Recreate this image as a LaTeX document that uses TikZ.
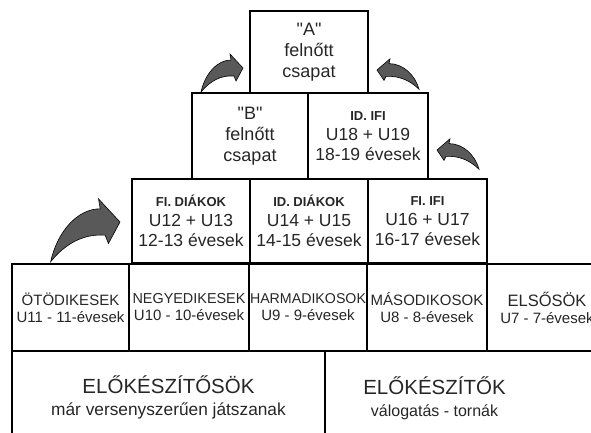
\documentclass[tikz,border=0pt]{standalone}
\usepackage{fontspec}
\setmainfont{Liberation Sans}
\newfontfamily\plainfont{Liberation Sans}
\newcommand{\fsz}[2]{\fontsize{#1}{#2}\selectfont}
\newcommand{\tag}[1]{{\fsz{13}{15}\bfseries #1}}
\newcommand{\qt}[1]{{\plainfont"#1"}}

\tikzset{
  tier/.style={draw, rectangle, line width=1.1pt, inner sep=0pt, align=center, text=black!85},
  top tier/.style={tier, font=\fsz{18}{21}},
  mid tier/.style={tier, font=\fsz{17.5}{20}},
  age tier/.style={tier, minimum height=87, font=\fsz{15}{17}},
  base tier/.style={tier, minimum height=92},
  bent arrow/.pic={
    \filldraw[fill=black!65, draw=black, line width=0.6pt]
      (0,0) -- (-13,-14) -- (-12,-8)
      .. controls (-26,-8) and (-38,6) .. (-42,24)
      .. controls (-33,13) and (-22,7) .. (-9,8)
      -- (-7,13) -- cycle;
  }
}

\begin{document}
\begin{tikzpicture}[x=1pt, y=-1pt]
  \useasboundingbox (0,0) rectangle (591,432);
  \clip (0,0) rectangle (591,432);

  % felnott csapatok
  \node[top tier, minimum width=118, minimum height=82] (acsapat) at (309,52) {\qt{A}\\felnőtt\\csapat};
  \node[top tier, minimum width=116, minimum height=86] (bcsapat) at (250,136) {\qt{B}\\felnőtt\\csapat};
  \node[mid tier, minimum width=120, minimum height=86] (idifi) at (368,136) {\tag{ID. IFI}\\U18 + U19\\18-19 évesek};

  % diakok, ifi
  \node[mid tier, minimum width=118, minimum height=84] (fidiak) at (191,221) {\tag{FI. DIÁKOK}\\U12 + U13\\12-13 évesek};
  \node[mid tier, minimum width=118, minimum height=84] (iddiak) at (309,221) {\tag{ID. DIÁKOK}\\U14 + U15\\14-15 évesek};
  \node[mid tier, minimum width=119, minimum height=84] (fiifi) at (427.5,221) {\tag{FI. IFI}\\U16 + U17\\16-17 évesek};

  % korosztalyok
  \node[age tier, minimum width=117] (otodik) at (70.5,307.5) {ÖTÖDIKESEK\\U11 - 11-évesek};
  \node[age tier, minimum width=120] (negyedik) at (189,307.5) {{\fsz{14.4}{17}NEGYEDIKESEK}\\U10 - 10-évesek};
  \node[age tier, minimum width=118] (harmadik) at (308,307.5) {{\fsz{14.2}{17}HARMADIKOSOK}\\U9 - 9-évesek};
  \node[age tier, minimum width=120] (masodik) at (427,307.5) {MÁSODIKOSOK\\U8 - 8-évesek};
  \node[age tier, minimum width=120] (elsok) at (547,307.5) {{\fsz{16.5}{17}ELSŐSÖK}\\U7 - 7-évesek};

  % elokeszitok
  \node[base tier, minimum width=313, font=\fsz{17.3}{19}] (elokesz) at (168.5,397) {{\fsz{20.5}{24}ELŐKÉSZÍTŐSÖK}\\[3pt]már versenyszerűen játszanak};
  \node[base tier, minimum width=300, anchor=west] (valogat) at (325,397) {};
  \node[align=center, text=black!85, inner sep=0pt, font=\fsz{16}{19}] (valogattext) at (434.5,398) {{\fsz{20.5}{24}ELŐKÉSZÍTŐK}\\[3pt]válogatás - tornák};

  % nyilak
  \pic[scale=1.65] at (120,222) {bent arrow};
  \pic at (243,68) {bent arrow};
  \pic[xscale=-1, yscale=0.8] at (377,70) {bent arrow};
  \pic[xscale=-1, yscale=0.8] at (437,150) {bent arrow};
\end{tikzpicture}
\end{document}
